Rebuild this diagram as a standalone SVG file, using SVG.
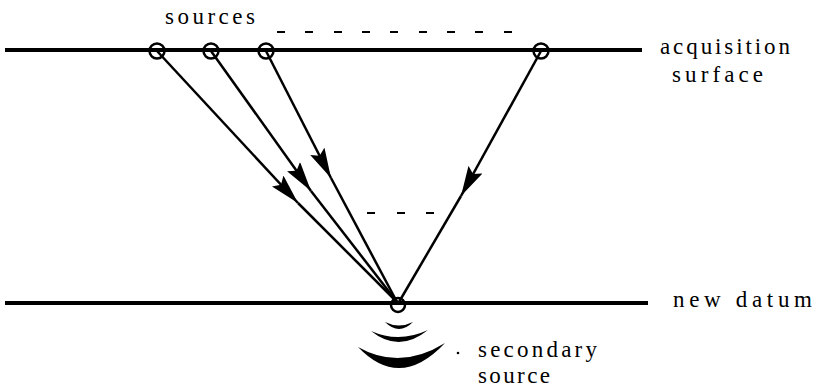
<svg xmlns="http://www.w3.org/2000/svg" width="820" height="389" viewBox="0 0 820 389">
<style>
.lbl{font-family:"Liberation Serif","Times New Roman",serif;font-size:23px;fill:#000}
.surf{stroke:#000;stroke-width:4;fill:none}
.ray{stroke:#000;stroke-width:2.5;fill:none}
.dash{stroke:#000;stroke-width:2.2;fill:none}
.rcv{stroke:#000;stroke-width:2.5;fill:none}
</style>
<defs>
<marker id="ah" markerUnits="userSpaceOnUse" markerWidth="32" markerHeight="16" refX="30" refY="8" orient="auto">
<path d="M0,0 L30,8 L0,16 L5,8 z" fill="#000"/>
</marker>
</defs>
<g id="acquisition-surface">
<line class="surf" x1="5" y1="50" x2="642" y2="50"/>
<path class="dash" d="M277,32h8M305,32h8M334,32h8M362,32h8M390,32h8M419,32h8M447,32h8M475,32h8M504,32h8"/>
<text class="lbl" x="165" y="24" textLength="90" lengthAdjust="spacing">sources</text>
<text class="lbl" x="660" y="54" textLength="130" lengthAdjust="spacing">acquisition</text>
<text class="lbl" x="672" y="82" textLength="91" lengthAdjust="spacing">surface</text>
</g>
<g id="source-1"><circle class="rcv" cx="157" cy="51" r="7.5"/></g>
<g id="source-2"><circle class="rcv" cx="211" cy="51" r="7.5"/></g>
<g id="source-3"><circle class="rcv" cx="266" cy="51" r="7.5"/></g>
<g id="source-4"><circle class="rcv" cx="541" cy="51" r="7.5"/></g>
<g id="new-datum">
<line class="surf" x1="5" y1="303" x2="648" y2="303"/>
<path class="dash" d="M367,213h8M397,213h8M426,213h8"/>
<text class="lbl" x="673" y="307" textLength="139" lengthAdjust="spacing">new datum</text>
</g>
<g id="secondary-source">
<circle class="rcv" cx="398" cy="305" r="7"/>
<path d="M385,322 Q399,336 413,322 Q399,329 385,322 z" fill="#000"/>
<path d="M371,331 Q399,353.5 428,330 Q399,343.5 371,331 z" fill="#000"/>
<path d="M358,347 Q400,391 445,343 Q400,371 358,347 z" fill="#000"/>
<circle cx="458" cy="353" r="1.3" fill="#000"/>
<text class="lbl" x="478" y="357" textLength="119" lengthAdjust="spacing">secondary</text>
<text class="lbl" x="478" y="383" textLength="72" lengthAdjust="spacing">source</text>
</g>
<g id="connectors">
<line class="ray" x1="157" y1="51" x2="298" y2="203" marker-end="url(#ah)"/>
<line class="ray" x1="298" y1="203" x2="397" y2="302"/>
<line class="ray" x1="211" y1="51" x2="311" y2="191" marker-end="url(#ah)"/>
<line class="ray" x1="311" y1="191" x2="397" y2="302"/>
<line class="ray" x1="266" y1="51" x2="331" y2="178" marker-end="url(#ah)"/>
<line class="ray" x1="331" y1="178" x2="397" y2="302"/>
<line class="ray" x1="541" y1="51" x2="461" y2="196" marker-end="url(#ah)"/>
<line class="ray" x1="461" y1="196" x2="399" y2="302"/>
</g>
</svg>
